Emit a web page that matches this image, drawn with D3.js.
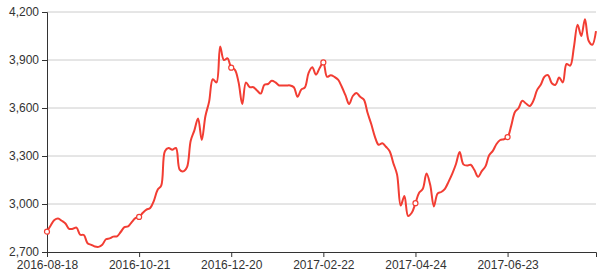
<!DOCTYPE html>
<html>
<head>
<meta charset="utf-8">
<script src="https://cdn.jsdelivr.net/npm/d3@7"></script>
<style>
  html, body { margin: 0; padding: 0; background: #fff; }
  svg { display: block; font-family: "Open Sans", "Noto Sans", sans-serif; }
</style>
</head>
<body>
<svg width="600" height="275"></svg>
<script>
// ---- Dados
const tickLabels = ['2016-08-18', '2016-10-21', '2016-12-20', '2017-02-22', '2017-04-24', '2017-06-23'];
const labelEvery = 25; // um rótulo a cada 25 pontos
const yTicks = [2700, 3000, 3300, 3600, 3900, 4200];
const values = [
  2827, 2866, 2900, 2910, 2895, 2878, 2845, 2845, 2852, 2808,
  2806, 2755, 2745, 2734, 2732, 2745, 2780, 2785, 2796, 2798,
  2825, 2855, 2860, 2887, 2912, 2919, 2945, 2965, 2975, 3020,
  3088, 3115, 3330, 3350, 3339, 3350, 3215, 3204, 3230, 3395,
  3460, 3535, 3400, 3550, 3640, 3780, 3760, 3985, 3900, 3910,
  3852, 3839, 3760, 3625, 3760, 3730, 3730, 3710, 3690, 3745,
  3750, 3770, 3760, 3741, 3741, 3741, 3741, 3730, 3670, 3715,
  3729, 3820, 3855, 3808, 3850, 3885, 3795, 3805, 3795, 3777,
  3733, 3680, 3625, 3675, 3694, 3670, 3652, 3570, 3500, 3420,
  3370, 3380, 3358, 3330, 3255, 3185, 2990, 3050, 2925, 2945,
  3005, 3070, 3095, 3190, 3120, 2985, 3065, 3075, 3095, 3140,
  3190, 3250, 3325, 3248, 3240, 3245, 3212, 3170, 3205, 3235,
  3305, 3332, 3375, 3400, 3405, 3418, 3490, 3575, 3600, 3645,
  3628, 3612, 3645, 3712, 3745, 3795, 3805, 3755, 3745, 3790,
  3760, 3875, 3865, 3980, 4120, 4050, 4155, 4020, 3995, 4080
];

const margens = { left: 47, right: 4, top: 12, bottom: 23 };
const svg = d3.select('svg');
const innerWidth = 600 - margens.left - margens.right;
const innerHeight = 275 - margens.top - margens.bottom;

const g = svg.append('g')
  .attr('transform', `translate(${margens.left}, ${margens.top})`);

// ---- Escalas
const mapX = d3.scaleLinear().domain([0, values.length - 1]).range([0, innerWidth]);
const mapY = d3.scaleLinear().domain([2700, 4200]).range([innerHeight, 0]);

// ---- Grade horizontal
g.append('g')
  .selectAll('line')
  .data(yTicks.slice(1))
  .join('line')
  .attr('x1', 0).attr('x2', innerWidth)
  .attr('y1', d => mapY(d)).attr('y2', d => mapY(d))
  .attr('stroke', '#ccc');

// ---- Eixos
const tickIdx = tickLabels.map((_, i) => i * labelEvery);
const xAxis = d3.axisBottom(mapX)
  .tickValues(tickIdx)
  .tickFormat((d, i) => tickLabels[i])
  .tickSizeOuter(0)
  .tickSize(5)
  .tickPadding(3);

const gx = g.append('g')
  .attr('transform', `translate(0, ${innerHeight})`)
  .call(xAxis);

const yAxis = d3.axisLeft(mapY)
  .tickValues(yTicks)
  .tickFormat(d3.format(','))
  .tickSizeOuter(0)
  .tickSize(5)
  .tickPadding(3);

const gy = g.append('g').call(yAxis);

[gx, gy].forEach(a => {
  a.select('.domain').attr('stroke', '#333');
  a.selectAll('.tick line').attr('stroke', '#333');
  a.selectAll('.tick text').attr('fill', '#333').style('font-size', '12px');
});

// ---- Linha
const line = d3.line()
  .x((d, i) => mapX(i))
  .y(d => mapY(d))
  .curve(d3.curveCatmullRom.alpha(0.5));

g.append('path')
  .datum(values)
  .attr('d', line)
  .attr('fill', 'none')
  .attr('stroke', '#f23d33')
  .attr('stroke-width', 2);

// ---- Marcadores nos rótulos
g.append('g')
  .selectAll('circle')
  .data(tickIdx)
  .join('circle')
  .attr('cx', d => mapX(d))
  .attr('cy', d => mapY(values[d]))
  .attr('r', 2.5)
  .attr('fill', '#fff')
  .attr('stroke', '#f23d33')
  .attr('stroke-width', 1.2);
</script>
</body>
</html>
